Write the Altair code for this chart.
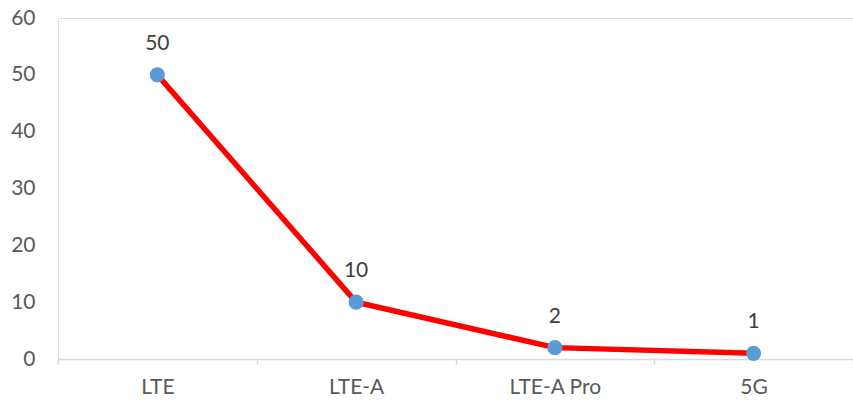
import altair as alt
import pandas as pd

categories = ["LTE", "LTE-A", "LTE-A Pro", "5G"]
values = [50, 10, 2, 1]

df = pd.DataFrame({"cat": categories, "val": values})

FONT = "Lato"
FS = 21
GRAY = "#595959"

x = alt.X("cat:N", sort=categories, title=None,
          scale=alt.Scale(paddingInner=0, paddingOuter=0),
          axis=alt.Axis(labelAngle=0, tickBand="extent", domainColor="#d9d9d9",
                        tickColor="#d9d9d9", tickSize=5, domainWidth=1.5, tickWidth=1.5,
                        labelFont=FONT, labelFontSize=FS, labelColor=GRAY,
                        labelPadding=12, grid=False))
y = alt.Y("val:Q", title=None,
          scale=alt.Scale(domain=[0, 60], nice=False),
          axis=alt.Axis(values=[0, 10, 20, 30, 40, 50, 60], domain=False, ticks=False,
                        grid=False, labelFont=FONT, labelFontSize=FS, labelColor=GRAY,
                        labelPadding=23))

base = alt.Chart(df).encode(x=x, y=y)

line = base.mark_line(color="#ff0000", strokeWidth=5.5)
pts = base.mark_point(filled=True, color="#5b9bd5", size=230, opacity=1)
txt = base.mark_text(dy=-31, font=FONT, fontSize=FS, color="#404040", baseline="middle").encode(text="val:Q")

chart = (line + pts + txt).properties(
    width=795, height=341,
    autosize=alt.AutoSizeParams(type="none"),
    padding={"left": 58, "top": 18, "right": 0, "bottom": 43},
).configure_view(stroke=None).configure(background="white")

chart.save("out.html", embed_options={"renderer": "svg", "actions": False})
